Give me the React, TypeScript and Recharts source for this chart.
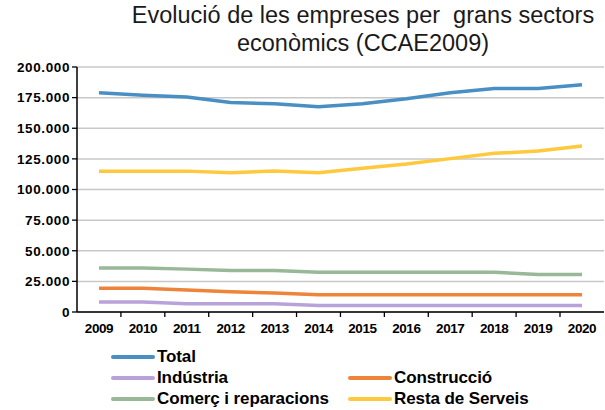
import { LineChart, Line, XAxis, YAxis, CartesianGrid, Legend } from 'recharts';

const years = ['2009', '2010', '2011', '2012', '2013', '2014', '2015', '2016', '2017', '2018', '2019', '2020'];
const total = [179000, 177000, 175500, 171000, 170000, 167500, 170000, 174000, 179000, 182500, 182500, 185500];
const industria = [8200, 8200, 6800, 6800, 6800, 5300, 5300, 5300, 5300, 5300, 5300, 5300];
const construccio = [19300, 19300, 18000, 16600, 15500, 14100, 14100, 14100, 14100, 14100, 14100, 14100];
const comerc = [36000, 36000, 35000, 33800, 33800, 32400, 32400, 32400, 32400, 32400, 30700, 30700];
const resta = [115000, 115000, 115000, 113700, 115000, 113700, 117300, 120800, 125200, 129500, 131400, 135500];
const yTicks = [0, 25000, 50000, 75000, 100000, 125000, 150000, 175000, 200000];

const series = [
  { key: 'total', name: 'Total', color: '#4a8fc4' },
  { key: 'industria', name: 'Indústria', color: '#b9a2d9' },
  { key: 'construccio', name: 'Construcció', color: '#ee8439' },
  { key: 'comerc', name: 'Comerç i reparacions', color: '#98b897' },
  { key: 'resta', name: 'Resta de Serveis', color: '#ffc93d' },
];

const data = years.map((y, i) => ({
  year: y,
  total: total[i],
  industria: industria[i],
  construccio: construccio[i],
  comerc: comerc[i],
  resta: resta[i],
}));

const FONT = '"Liberation Sans", Arial, sans-serif';
const fmt = (v: number) => v.toLocaleString('de-DE');

function XTick(props: any) {
  const { x, y, payload, index } = props;
  return (
    <g>
      {index > 0 && <line x1={x - 22} x2={x - 22} y1={y - 8} y2={y - 3} stroke="#000" strokeWidth={1.3} />}
      <text x={x} y={y + 13} textAnchor="middle" fontFamily={FONT} fontWeight="bold" fontSize={13.5}
        letterSpacing={-0.4} fill="#000">
        {payload.value}
      </text>
    </g>
  );
}

function LegendBox() {
  const item = (s: typeof series[number]) => (
    <div key={s.key} style={{ display: 'flex', alignItems: 'center', height: 21 }}>
      <span style={{ display: 'inline-block', width: 44, height: 4, borderRadius: 2, background: s.color, marginRight: 2 }} />
      <span style={{ fontFamily: FONT, fontWeight: 'bold', fontSize: 17, letterSpacing: -0.1, color: '#000' }}>{s.name}</span>
    </div>
  );
  return (
    <div style={{ position: 'relative', width: 605, height: 64 }}>
      <div style={{ position: 'absolute', left: 111, top: 0 }}>
        {item(series[0])}
        {item(series[1])}
        {item(series[3])}
      </div>
      <div style={{ position: 'absolute', left: 348, top: 21 }}>
        {item(series[2])}
        {item(series[4])}
      </div>
    </div>
  );
}

export default function App() {
  return (
    <div style={{ position: 'absolute', left: 0, top: 0, width: 605, height: 410, background: '#fff' }}>
      <div style={{ position: 'absolute', left: 120, top: 1, width: 486, textAlign: 'center', fontFamily: FONT,
        fontSize: 23.5, lineHeight: '28px', color: '#1a1a1a', whiteSpace: 'nowrap' }}>
        Evolució de les empreses per&nbsp; grans sectors<br />econòmics (CCAE2009)
      </div>
      <LineChart width={605} height={410} data={data} margin={{ top: 67, right: 1, left: 7, bottom: 0 }}>
        <CartesianGrid vertical={false} stroke="#c8c8c8" strokeWidth={1.5} />
        <XAxis dataKey="year" padding={{ left: 22, right: 22 }} axisLine={{ stroke: '#000', strokeWidth: 1.5 }}
          tickLine={false} tick={<XTick />} height={34} interval={0} />
        <YAxis domain={[0, 200000]} ticks={yTicks} tickFormatter={fmt} width={70} interval={0}
          axisLine={{ stroke: '#000', strokeWidth: 1.5 }} tickLine={{ stroke: '#000', strokeWidth: 1.3 }} tickSize={5}
          tick={{ fontFamily: FONT, fontWeight: 'bold', fontSize: 13.5, fill: '#000', letterSpacing: 0.6 }} />
        <Legend verticalAlign="bottom" content={() => <LegendBox />}
          wrapperStyle={{ position: 'absolute', left: 0, top: 346, width: 605 }} />
        {series.map((s) => (
          <Line key={s.key} type="linear" dataKey={s.key} name={s.name} stroke={s.color} strokeWidth={3.5}
            dot={false} activeDot={false} isAnimationActive={false} />
        ))}
      </LineChart>
    </div>
  );
}
